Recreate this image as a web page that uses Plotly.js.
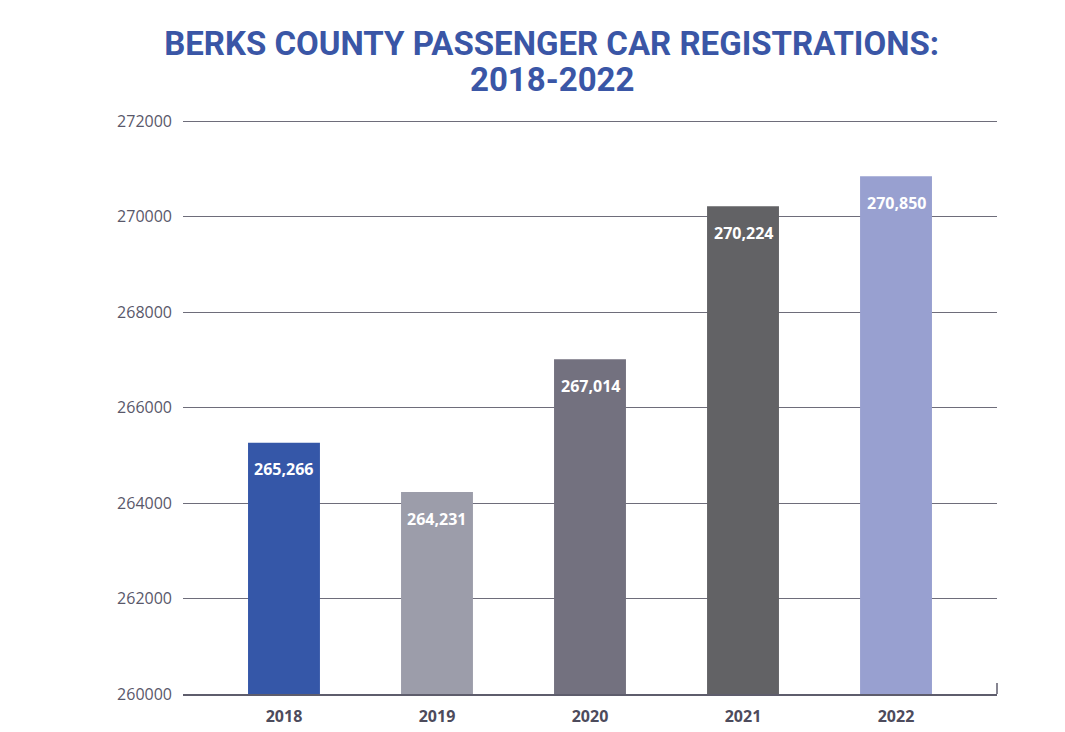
<!DOCTYPE html>
<html>
<head>
<meta charset="utf-8">
<script src="https://cdn.plot.ly/plotly-3.0.1.min.js"></script>
<style>html,body{margin:0;padding:0;background:#fff;}#chart{width:1065px;height:732px;}</style>
</head>
<body>
<div id="chart"></div>
<script>
var years = ['2018', '2019', '2020', '2021', '2022'];
var registrations = [265266, 264231, 267014, 270224, 270850];
var barColors = ['#3557A8', '#9C9DAA', '#73717F', '#626265', '#98A0D0'];
var yTicks = [260000, 262000, 264000, 266000, 268000, 270000, 272000];
var titleLine1 = 'BERKS COUNTY PASSENGER CAR REGISTRATIONS:';
var titleLine2 = '2018-2022';

var titleFont = {family: 'Roboto, sans-serif', size: 33, color: '#3A56A6', weight: 'bold'};

var trace = {
  type: 'bar',
  x: years,
  y: registrations,
  marker: {color: barColors, line: {width: 0}},
  width: 0.47,
  hoverinfo: 'x+y'
};

var annotations = years.map(function (yr, i) {
  return {
    x: i, y: registrations[i], xref: 'x', yref: 'y',
    text: '<b>' + registrations[i].toLocaleString('en-US') + '</b>',
    showarrow: false, yanchor: 'top', yshift: -13.5,
    font: {family: 'Open Sans, sans-serif', size: 16, color: '#ffffff'}
  };
});
annotations.push({
  x: 0.453, y: 1.068, xref: 'paper', yref: 'paper',
  xanchor: 'center', yanchor: 'middle',
  text: titleLine2, showarrow: false, font: titleFont
});

var layout = {
  width: 1065, height: 732,
  paper_bgcolor: '#ffffff', plot_bgcolor: '#ffffff',
  margin: {l: 183, r: 68, t: 119, b: 38},
  showlegend: false,
  title: {
    text: titleLine1,
    x: 0.518, xanchor: 'center', xref: 'container',
    y: 0.94, yanchor: 'middle', yref: 'container',
    font: titleFont
  },
  xaxis: {
    type: 'category',
    range: [-0.66, 4.66],
    showgrid: false, zeroline: false,
    showline: true, linecolor: '#5E5D6C', linewidth: 1.5,
    ticks: '', ticklabelstandoff: 7,
    tickfont: {family: 'Open Sans, sans-serif', size: 16, color: '#4D4B5C', weight: 'bold'},
    fixedrange: true
  },
  yaxis: {
    range: [260000, 272050],
    tickvals: yTicks,
    ticktext: yTicks.map(String),
    showgrid: true, gridcolor: '#6E6D7A', gridwidth: 1,
    zeroline: false, showline: false,
    ticks: '', ticklabelstandoff: 10,
    tickfont: {family: 'Open Sans, sans-serif', size: 16, color: '#59586A'},
    fixedrange: true
  },
  annotations: annotations,
  shapes: [{
    type: 'line', xref: 'paper', yref: 'paper',
    x0: 1, x1: 1, y0: 0, y1: 0.019,
    line: {color: '#5E5D6C', width: 1.5}
  }]
};

Plotly.newPlot('chart', [trace], layout, {displayModeBar: false, staticPlot: true});
</script>
</body>
</html>
